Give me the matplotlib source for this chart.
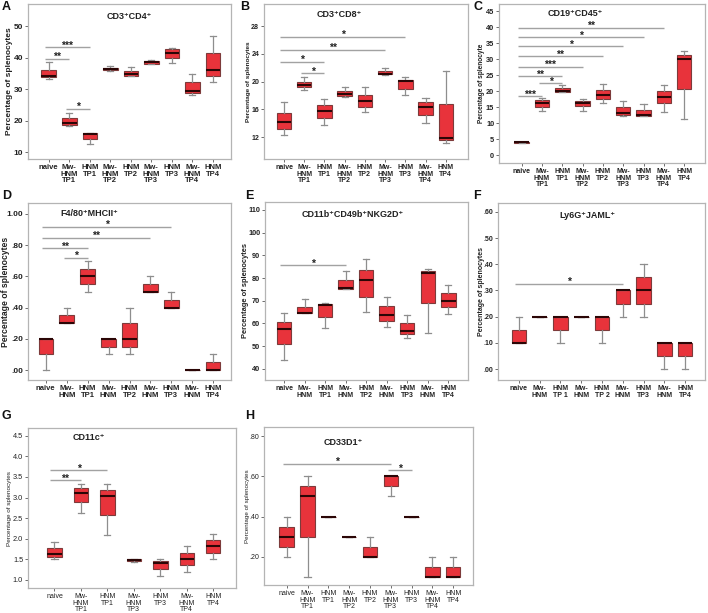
import matplotlib
matplotlib.use('Agg')
import matplotlib.pyplot as plt

plt.rcParams['font.family'] = ['Liberation Sans', 'DejaVu Sans']

W, H = 708, 613

# ---------------- data ----------------
cats_full = ['naive', 'Mw-\nHNM\nTP1', 'HNM\nTP1', 'Mw-\nHNM\nTP2', 'HNM\nTP2',
             'Mw-\nHNM\nTP3', 'HNM\nTP3', 'Mw-\nHNM\nTP4', 'HNM\nTP4']
cats_short = ['naive', 'Mw-\nHNM', 'HNM\nTP1', 'Mw-\nHNM', 'HNM\nTP2',
              'Mw-\nHNM', 'HNM\nTP3', 'Mw-\nHNM', 'HNM\nTP4']
cats_F = ['naive', 'Mw-\nHNM', 'HNM\nTP 1', 'Mw-\nHNM', 'HNM\nTP 2',
          'Mw-\nHNM', 'HNM\nTP3', 'Mw-\nHNM', 'HNM\nTP4']
cats_G = ['naive', 'Mw-\nHNM\nTP1', 'HNM\nTP1', 'Mw-\nHNM\nTP3', 'HNM\nTP3',
          'Mw-\nHNM\nTP4', 'HNM\nTP4']

# (whisker low, q1, median, q3, whisker high)
A_stats = [(33.3, 33.7, 34.1, 36.2, 38.5), (18.3, 18.6, 19.2, 20.7, 22.5),
           (12.6, 14.2, 15.6, 16.0, 16.2), (35.6, 35.9, 36.3, 36.8, 37.2),
           (34.0, 34.3, 34.9, 35.7, 37.0), (37.9, 38.1, 38.5, 38.8, 39.2),
           (38.3, 40.0, 41.5, 42.6, 43.1), (28.1, 28.9, 29.5, 32.2, 34.8),
           (32.4, 34.1, 35.9, 41.3, 46.8)]
B_stats = [(12.3, 13.2, 14.1, 15.5, 17.0), (18.8, 19.2, 19.5, 20.0, 20.7),
           (13.8, 14.8, 15.8, 16.6, 17.5), (17.8, 17.97, 18.2, 18.7, 19.16),
           (15.6, 16.3, 17.2, 18.1, 19.16), (21.0, 21.05, 21.15, 21.55, 22.0),
           (18.1, 19.0, 20.1, 20.2, 20.6), (14.0, 15.2, 16.4, 17.06, 17.7),
           (11.1, 11.5, 11.9, 16.7, 21.6)]
C_stats = [(3.6, 3.75, 3.95, 4.1, 4.2), (13.9, 15.1, 16.1, 17.2, 17.7),
           (19.6, 19.6, 20.1, 21.0, 21.8), (13.9, 15.2, 16.25, 16.8, 17.5),
           (16.25, 17.5, 18.6, 20.3, 22.2), (12.2, 12.5, 13.1, 15.1, 17.0),
           (12.2, 12.3, 12.5, 14.1, 15.8), (13.4, 16.1, 18.2, 20.1, 21.8),
           (11.25, 20.7, 30.0, 31.25, 32.5)]
D_stats = [(0.0, 0.10, 0.20, 0.20, 0.20), (0.30, 0.30, 0.30, 0.35, 0.40),
           (0.50, 0.55, 0.60, 0.65, 0.70), (0.10, 0.15, 0.20, 0.20, 0.20),
           (0.10, 0.15, 0.20, 0.30, 0.40), (0.50, 0.50, 0.50, 0.55, 0.60),
           (0.40, 0.40, 0.40, 0.45, 0.50), (0.0, 0.0, 0.0, 0.0, 0.0),
           (0.0, 0.0, 0.0, 0.05, 0.10)]
E_stats = [(44.1, 50.8, 57.5, 60.8, 64.5), (64.4, 64.5, 64.8, 67.4, 70.7),
           (57.8, 63.0, 68.2, 68.7, 69.2), (75.3, 75.4, 75.6, 79.3, 83.3),
           (65.0, 71.8, 79.0, 83.6, 88.2), (58.6, 61.2, 63.9, 67.6, 71.5),
           (53.7, 55.2, 56.7, 60.2, 63.9), (55.9, 68.9, 82.3, 83.2, 84.2),
           (64.3, 67.1, 69.9, 73.5, 76.8)]
F_stats = [(0.10, 0.10, 0.10, 0.15, 0.20), (0.20, 0.20, 0.20, 0.20, 0.20),
           (0.10, 0.15, 0.20, 0.20, 0.20), (0.20, 0.20, 0.20, 0.20, 0.20),
           (0.10, 0.15, 0.20, 0.20, 0.20), (0.20, 0.25, 0.30, 0.30, 0.30),
           (0.20, 0.25, 0.30, 0.35, 0.40), (0.0, 0.05, 0.10, 0.10, 0.10),
           (0.0, 0.05, 0.10, 0.10, 0.10)]
G_stats = [(1.51, 1.56, 1.62, 1.77, 1.91), (2.62, 2.88, 3.12, 3.22, 3.33),
           (2.10, 2.57, 3.03, 3.18, 3.33), (1.42, 1.45, 1.48, 1.50, 1.51),
           (1.10, 1.26, 1.41, 1.45, 1.51), (1.20, 1.35, 1.50, 1.65, 1.82),
           (1.51, 1.65, 1.81, 1.96, 2.11)]
H_stats = [(0.20, 0.25, 0.30, 0.35, 0.40), (0.10, 0.30, 0.50, 0.55, 0.60),
           (0.40, 0.40, 0.40, 0.40, 0.40), (0.30, 0.30, 0.30, 0.30, 0.30),
           (0.20, 0.20, 0.20, 0.25, 0.30), (0.50, 0.55, 0.60, 0.60, 0.60),
           (0.40, 0.40, 0.40, 0.40, 0.40), (0.10, 0.10, 0.10, 0.15, 0.20),
           (0.10, 0.10, 0.10, 0.15, 0.20)]

# significance bars: (from category, to category, y value, label)
A_sig = [(0, 2, 43.2, '***'), (0, 1, 39.6, '**'), (1, 2, 23.7, '*')]
B_sig = [(0, 6, 26.5, '*'), (0, 5, 24.6, '**'), (0, 2, 22.9, '*'), (1, 2, 21.2, '*')]
C_sig = [(0, 7, 39.7, '**'), (0, 6, 36.8, '*'), (0, 5, 34.0, '*'), (0, 4, 30.9, '**'),
         (0, 3, 27.6, '***'), (0, 2, 24.6, '**'), (1, 2, 22.4, '*'), (0, 1, 18.3, '***')]
D_sig = [(0, 6, 0.917, '*'), (0, 5, 0.847, '**'), (0, 2, 0.78, '**'), (1, 2, 0.72, '*')]
E_sig = [(0, 3, 85.7, '*')]
F_sig = [(0, 5, 0.325, '*')]
G_sig = [(0, 2, 3.66, '*'), (0, 1, 3.42, '**')]
H_sig = [(0, 5, 0.663, '*'), (5, 6, 0.63, '*')]

A_yticks = [10, 20, 30, 40, 50]
B_yticks = [12, 16, 20, 24, 28]
C_yticks = [0, 5, 10, 15, 20, 25, 30, 35, 40, 45]
D_yticks = [0.0, 0.2, 0.4, 0.6, 0.8, 1.0]
D_ylabels = ['.00', '.20', '.40', '.60', '.80', '1.00']
E_yticks = [40, 50, 60, 70, 80, 90, 100, 110]
F_yticks = [0.0, 0.1, 0.2, 0.3, 0.4, 0.5, 0.6]
F_ylabels = ['.00', '.10', '.20', '.30', '.40', '.50', '.60']
G_yticks = [1.0, 1.5, 2.0, 2.5, 3.0, 3.5, 4.0, 4.5]
G_ylabels = ['1.0', '1.5', '2.0', '2.5', '3.0', '3.5', '4.0', '4.5']
H_yticks = [0.2, 0.4, 0.6, 0.8]
H_ylabels = ['.20', '.40', '.60', '.80']

# ---------------- style ----------------
FILL = '#e8333b'
EDGE = '#7d3b3b'
MED = '#2b0606'
WHISK = '#8e8e8e'
FRAME = '#b4b4b4'
SIGC = '#a2a2a2'
TXT = '#222222'

fig = plt.figure(figsize=(W / 100, H / 100), dpi=100)


def px_rect(x0, y0, x1, y1):
    return [x0 / W, 1 - y1 / H, (x1 - x0) / W, (y1 - y0) / H]


def panel(box, cats, stats, sig, xlim, ylim, yticks, ylabels, title, tpos,
          ylabel, ylx, ylfs, ytfs, xtfs, letter, lpos, weight='bold'):
    ax = fig.add_axes(px_rect(*box))
    ax.set_xlim(*xlim)
    ax.set_ylim(*ylim)
    ppu = (box[2] - box[0]) / (xlim[1] - xlim[0])
    w = 14.5 / ppu
    st = [dict(whislo=s[0], q1=s[1], med=s[2], q3=s[3], whishi=s[4], fliers=[])
          for s in stats]
    ax.bxp(st, positions=list(range(len(stats))), widths=w, patch_artist=True,
           showfliers=False, manage_ticks=False, capwidths=w * 0.42,
           boxprops=dict(facecolor=FILL, edgecolor=EDGE, linewidth=0.8),
           medianprops=dict(color=MED, linewidth=1.5, solid_capstyle='butt'),
           whiskerprops=dict(color=WHISK, linewidth=0.9),
           capprops=dict(color=WHISK, linewidth=0.9))
    for i, j, y, lab in sig:
        x0 = i - 0.18 if i == 0 else i - 0.15
        ax.plot([x0, j], [y, y], color=SIGC, lw=1.0, solid_capstyle='butt')
        ax.annotate(lab, ((x0 + j) / 2, y), xytext=(0, -2.4), textcoords='offset points',
                    ha='center', va='bottom', fontsize=7.5, fontweight='bold', color=TXT)
    ax.set_xticks(range(len(cats)))
    ax.set_xticklabels(cats, fontsize=xtfs, fontweight=weight, color=TXT, linespacing=0.95)
    ax.set_yticks(yticks)
    ax.set_yticklabels(ylabels if ylabels is not None else [str(v) for v in yticks],
                       fontsize=ytfs, fontweight=weight, color=TXT)
    ax.tick_params(axis='both', length=2, width=0.6, color='#555555', pad=1.5)
    for s in ax.spines.values():
        s.set_color(FRAME)
        s.set_linewidth(0.9)
    ax.text(tpos[0], tpos[1], title, transform=ax.transAxes, ha='center', va='center',
            fontsize=6.5, fontweight='bold', color=TXT,
            family=['Liberation Sans', 'DejaVu Sans'])
    ax.set_ylabel(ylabel, fontsize=ylfs, fontweight=weight, color=TXT)
    ax.yaxis.label.set_verticalalignment('center')
    ax.yaxis.set_label_coords(ylx, 0.5)
    fig.text(lpos[0] / W, 1 - lpos[1] / H, letter, ha='left', va='top',
             fontsize=9, fontweight='bold', color='#111111')
    return ax


PL = 'Percentage of splenocytes'

panel((28, 4, 231, 159), cats_full, A_stats, A_sig, (-1.01, 8.88), (7.8, 57.0),
      A_yticks, None, 'CD3\u207aCD4\u207a', (0.5, 0.92), PL, -0.089, 6.0, 6.0, 5.5,
      'A', (2, 1))
panel((264, 4, 468, 159), cats_full, B_stats, B_sig, (-0.99, 9.1), (8.83, 31.2),
      B_yticks, None, 'CD3\u207aCD8\u207a', (0.37, 0.93), PL, -0.074, 4.6, 5.0, 5.0,
      'B', (240, 1))
panel((499, 4, 705, 163), cats_full, C_stats, C_sig, (-1.12, 9.03), (-2.5, 47.2),
      C_yticks, None, 'CD19\u207aCD45\u207a', (0.37, 0.94), 'Percentage of splenocyte',
      -0.084, 4.7, 5.3, 5.0, 'C', (473, 1))
panel((28, 203, 231, 380), cats_short, D_stats, D_sig, (-0.85, 8.85), (-0.064, 1.07),
      D_yticks, D_ylabels, 'F4/80\u207aMHCII\u207a', (0.30, 0.94), PL, -0.113, 6.2, 6.0, 5.5,
      'D', (2, 190))
panel((265, 202, 468, 380), cats_short, E_stats, E_sig, (-0.93, 8.96), (35.1, 113.5),
      E_yticks, None, 'CD11b\u207aCD49b\u207aNKG2D\u207a', (0.43, 0.93), PL, -0.094, 5.4,
      5.3, 5.0, 'E', (245, 190))
panel((498, 203, 705, 380), cats_F, F_stats, F_sig, (-1.01, 8.96), (-0.042, 0.634),
      F_yticks, F_ylabels, 'Ly6G\u207aJAML\u207a', (0.43, 0.93), PL, -0.082, 5.0, 5.0, 5.0,
      'F', (473, 190))
panel((28, 428, 236, 588), cats_G, G_stats, G_sig, (-1.0, 6.86), (0.8, 4.69),
      G_yticks, G_ylabels, 'CD11c\u207a', (0.29, 0.94), PL, -0.087, 4.6, 5.3, 5.0,
      'G', (2, 410), weight='normal')
panel((264, 427, 473, 585), cats_full, H_stats, H_sig, (-1.09, 8.95), (0.06, 0.845),
      H_yticks, H_ylabels, 'CD33D1\u207a', (0.38, 0.905), PL, -0.077, 4.5, 5.0, 5.0,
      'H', (245, 410), weight='normal')

fig.savefig('out.png', dpi=100)
